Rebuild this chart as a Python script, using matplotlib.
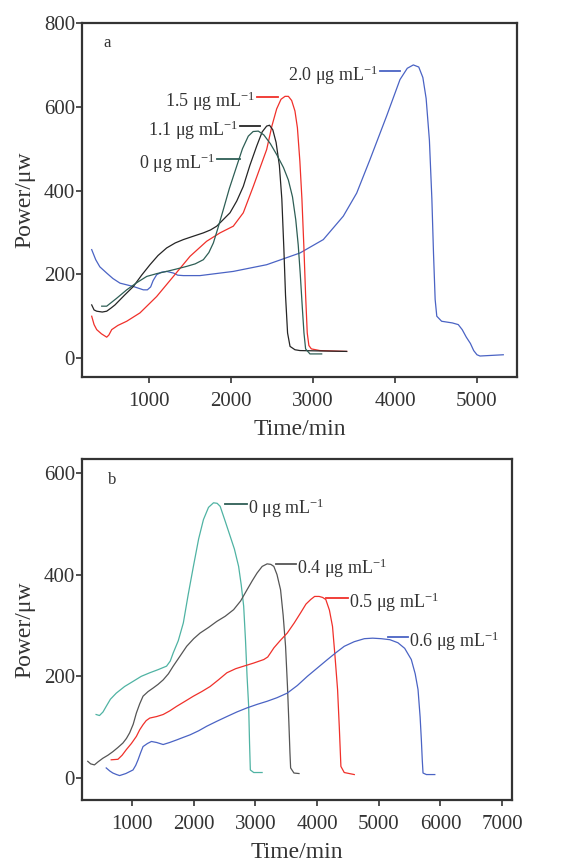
import numpy as np
import matplotlib
matplotlib.use("Agg")
import matplotlib.pyplot as plt

plt.rcParams['font.family'] = ['Liberation Serif', 'DejaVu Serif']
plt.rcParams['mathtext.fontset'] = 'custom'
plt.rcParams['mathtext.rm'] = 'Liberation Serif'
plt.rcParams['mathtext.it'] = 'Liberation Serif'

# ---- panel a ----
a_blue_x = [301, 350, 400, 484, 560, 646, 809, 931, 980, 1020, 1050, 1093, 1150, 1215, 1300, 1350, 1419,
            1622, 2028, 2435, 2841, 3126, 3370, 3533, 3695, 3898, 4061, 4150, 4224, 4290, 4340,
            4380, 4420, 4450, 4470, 4490, 4510, 4569, 4700, 4772, 4820, 4870, 4920, 4960, 5000, 5037, 5321]
a_blue_y = [259, 235, 218, 203, 190, 179, 171, 163, 163, 170, 185, 199, 205, 207, 203, 198, 197,
            197, 207, 223, 251, 283, 339, 394, 474, 578, 665, 692, 700, 695, 670,
            620, 520, 380, 250, 140, 100, 88, 84, 80, 68, 50, 35, 18, 8, 5, 8]

a_red_x = [301, 330, 362, 420, 484, 510, 545, 620, 728, 890, 1093, 1297, 1500, 1703, 1866, 2028, 2150,
           2272, 2435, 2500, 2557, 2610, 2659, 2700, 2740, 2780, 2810, 2840, 2865, 2890, 2910, 2930,
           2950, 2980, 3085, 3411]
a_red_y = [100, 80, 68, 58, 50, 55, 68, 78, 88, 108, 147, 195, 243, 279, 299, 315, 347,
           410, 498, 555, 595, 618, 625, 625, 615, 590, 550, 470, 380, 260, 150, 60,
           30, 22, 18, 16]

a_black_x = [301, 330, 362, 430, 484, 540, 585, 700, 809, 910, 1012, 1110, 1215, 1320, 1419, 1540,
             1663, 1750, 1826, 1988, 2070, 2150, 2230, 2313, 2380, 2435, 2470, 2510, 2550, 2590,
             2620, 2645, 2665, 2690, 2720, 2780, 2841, 3411]
a_black_y = [127, 115, 112, 110, 112, 120, 127, 150, 171, 198, 223, 245, 263, 275, 283, 291,
             299, 306, 315, 347, 375, 410, 460, 506, 540, 554, 556, 545, 515, 460,
             380, 260, 150, 60, 28, 20, 18, 16]

a_teal_x = [423, 484, 600, 728, 850, 972, 1100, 1215, 1340, 1459, 1563, 1663, 1730, 1785, 1840, 1907,
            1980, 2069, 2140, 2211, 2270, 2333, 2400, 2480, 2560, 2640, 2700, 2750, 2790, 2820,
            2845, 2870, 2890, 2910, 2963, 3106]
a_teal_y = [124, 124, 142, 163, 180, 195, 202, 207, 213, 219, 225, 235, 252, 275, 310, 355,
            405, 458, 500, 530, 541, 542, 533, 512, 485, 455, 425, 385, 330, 270,
            200, 120, 60, 22, 10, 10]

# ---- panel b ----
b_teal_x = [418, 473, 530, 582, 650, 745, 880, 1016, 1150, 1288, 1420, 1560, 1620, 1668, 1750, 1832,
            1910, 1995, 2080, 2158, 2240, 2321, 2380, 2429, 2510, 2592, 2660, 2728, 2770, 2810,
            2840, 2865, 2891, 2905, 2918, 2973, 3109]
b_teal_y = [125, 123, 130, 141, 155, 167, 180, 190, 200, 207, 213, 220, 230, 246, 270, 305,
            360, 416, 470, 508, 532, 541, 540, 534, 505, 475, 450, 416, 380, 338,
            270, 200, 141, 70, 16, 11, 11]

b_gray_x = [283, 330, 391, 450, 527, 610, 690, 770, 853, 910, 962, 1020, 1071, 1125, 1179, 1260, 1342,
            1420, 1505, 1590, 1668, 1780, 1886, 2000, 2103, 2240, 2375, 2510, 2647, 2760, 2864,
            2950, 3027, 3110, 3190, 3250, 3299, 3350, 3408, 3450, 3489, 3520, 3543, 3560, 3571,
            3625, 3707]
b_gray_y = [33, 28, 26, 32, 39, 45, 52, 60, 69, 78, 89, 106, 128, 146, 161, 170, 177,
            184, 193, 205, 220, 240, 259, 274, 285, 296, 308, 318, 331, 348, 370,
            388, 403, 416, 421, 420, 416, 400, 370, 320, 259, 180, 108, 50, 20,
            10, 9]

b_red_x = [663, 772, 840, 908, 990, 1071, 1125, 1179, 1230, 1288, 1400, 1505, 1610, 1723, 1860, 1995,
           2130, 2266, 2400, 2538, 2680, 2810, 2970, 3136, 3200, 3245, 3300, 3400, 3516, 3630,
           3734, 3820, 3897, 3960, 4033, 4090, 4141, 4200, 4250, 4290, 4332, 4360, 4386, 4440, 4603]
b_red_y = [36, 37, 45, 56, 68, 82, 95, 105, 113, 118, 121, 125, 132, 141, 151, 161,
           170, 180, 193, 207, 215, 220, 226, 233, 238, 246, 256, 270, 285, 305,
           325, 342, 351, 357, 357, 355, 351, 330, 298, 240, 174, 100, 23, 11, 7]

b_blue_x = [582, 640, 690, 750, 799, 900, 1016, 1060, 1098, 1140, 1179, 1250, 1315, 1400, 1505, 1610,
            1723, 1830, 1940, 2080, 2212, 2380, 2538, 2700, 2864, 3030, 3190, 3350, 3516, 3680,
            3842, 4000, 4168, 4300, 4440, 4600, 4766, 4900, 5038, 5180, 5310, 5420, 5527, 5590,
            5636, 5670, 5690, 5705, 5717, 5772, 5908]
b_blue_y = [20, 14, 10, 7, 5, 9, 16, 25, 36, 50, 62, 68, 72, 70, 66, 70,
            75, 80, 85, 93, 102, 112, 121, 130, 138, 145, 151, 158, 167, 182,
            200, 216, 233, 246, 259, 268, 274, 275, 274, 272, 266, 255, 233, 205,
            174, 120, 75, 35, 10, 7, 7]

a_labels = ['2.0', '1.5', '1.1', '0']
b_labels = ['0', '0.4', '0.5', '0.6']

BLUE = '#4a63c4'
RED = '#f0302a'
BLACK = '#252525'
DTEAL = '#2e5e55'
LTEAL = '#4fb3a3'
GRAY = '#555555'

fig = plt.figure(figsize=(5.72, 8.63), dpi=100)
ax1 = fig.add_axes([0.1434, 0.5632, 0.7604, 0.4101])
ax2 = fig.add_axes([0.1434, 0.0730, 0.7518, 0.3951])

lw = 0.9
ax1.plot(a_blue_x, a_blue_y, color=BLUE, lw=lw)
ax1.plot(a_red_x, a_red_y, color=RED, lw=lw)
ax1.plot(a_black_x, a_black_y, color=BLACK, lw=lw)
ax1.plot(a_teal_x, a_teal_y, color=DTEAL, lw=lw)

ax2.plot(b_teal_x, b_teal_y, color=LTEAL, lw=lw)
ax2.plot(b_gray_x, b_gray_y, color=GRAY, lw=lw)
ax2.plot(b_red_x, b_red_y, color=RED, lw=lw)
ax2.plot(b_blue_x, b_blue_y, color=BLUE, lw=lw)

unit = ' \u03bcg mL$^{\u22121}$'

# label leader lines: (x start, x end, y, colour)
a_marks = [(3817, 4061, 685, BLUE), (2313, 2577, 623, RED), (2110, 2354, 554, BLACK), (1825, 2110, 476, DTEAL)]
for lab, (x0, x1, y, c) in zip(a_labels, a_marks):
    ax1.plot([x0, x1], [y, y], color=c, lw=1.3)
    ax1.text(x0 - 20, y - 10, lab + unit, ha='right', va='center', fontsize=13, color='#333333')

b_marks = [(2511, 2864, 539, DTEAL), (3326, 3652, 420, GRAY), (4141, 4495, 354, RED), (5147, 5473, 277, BLUE)]
for lab, (x0, x1, y, c) in zip(b_labels, b_marks):
    ax2.plot([x0, x1], [y, y], color=c, lw=1.3)
    ax2.text(x1 + 20, y - 8, lab + unit, ha='left', va='center', fontsize=13, color='#333333')

ax1.set_xlim(183, 5488)
ax1.set_ylim(-45, 800)
ax1.set_yticks([0, 200, 400, 600, 800])
ax1.set_xticks([1000, 2000, 3000, 4000, 5000])
ax1.text(0.05, 0.945, 'a', transform=ax1.transAxes, fontsize=12, color='#333333', va='center')

ax2.set_xlim(190, 7160)
ax2.set_ylim(-43, 627)
ax2.set_yticks([0, 200, 400, 600])
ax2.set_xticks([1000, 2000, 3000, 4000, 5000, 6000, 7000])
ax2.text(0.06, 0.938, 'b', transform=ax2.transAxes, fontsize=12, color='#333333', va='center')

for ax in (ax1, ax2):
    for s in ax.spines.values():
        s.set_linewidth(1.6)
        s.set_color('#333333')
    ax.tick_params(direction='out', length=4, width=1.2, color='#333333',
                   labelsize=15, labelcolor='#333333', pad=1)
    ax.tick_params(axis='x', pad=6.5)
    ax.set_ylabel('Power/\u03bcw', fontsize=17, color='#333333', labelpad=6)

ax1.set_xlabel('Time/min', fontsize=17, color='#333333', labelpad=6)
ax2.set_xlabel('Time/min', fontsize=17, color='#333333', labelpad=6)

fig.savefig('out.png', dpi=100)
